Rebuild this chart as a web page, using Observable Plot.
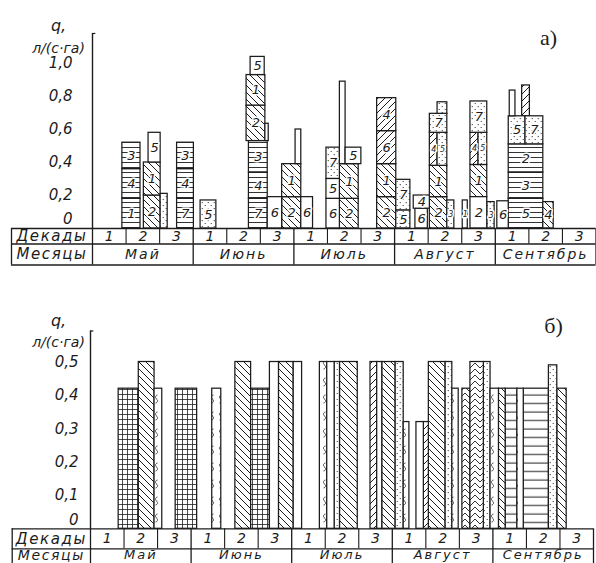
<!DOCTYPE html>
<html>
<head>
<meta charset="utf-8">
<script src="https://cdn.jsdelivr.net/npm/d3@7"></script>
<script src="https://cdn.jsdelivr.net/npm/@observablehq/plot@0.6"></script>
<style>
  body { margin: 0; background: #fff; }
  #chart { width: 596px; height: 563px; overflow: hidden; position: relative; }
  #chart svg { display: block; }
  g[aria-description="months"] text { letter-spacing: 2px; }
  g[aria-description="rowlabels"] text { letter-spacing: 1.6px; }
</style>
</head>
<body>
<svg width="0" height="0" style="position:absolute">
  <defs>
    <pattern id="pH" patternUnits="userSpaceOnUse" width="8" height="5">
      <rect width="8" height="5" fill="#fff"/>
      <line x1="0" y1="2.5" x2="8" y2="2.5" stroke="#1c1c1c" stroke-width="0.9"/>
    </pattern>
    <pattern id="pW" patternUnits="userSpaceOnUse" width="8" height="8.5">
      <rect width="8" height="8.5" fill="#fff"/>
      <line x1="0" y1="4" x2="8" y2="4" stroke="#1c1c1c" stroke-width="1"/>
    </pattern>
    <pattern id="pB" patternUnits="userSpaceOnUse" width="7" height="7">
      <rect width="7" height="7" fill="#fff"/>
      <path d="M0,0L7,7M-1,6L1,8M6,-1L8,1" stroke="#1c1c1c" stroke-width="1"/>
    </pattern>
    <pattern id="pF" patternUnits="userSpaceOnUse" width="7" height="7">
      <rect width="7" height="7" fill="#fff"/>
      <path d="M0,7L7,0M-1,1L1,-1M6,8L8,6" stroke="#1c1c1c" stroke-width="1"/>
    </pattern>
    <pattern id="pD" patternUnits="userSpaceOnUse" width="6" height="6">
      <rect width="6" height="6" fill="#fff"/>
      <circle cx="1.2" cy="1.5" r="0.6" fill="#1c1c1c"/>
      <circle cx="4.2" cy="4.6" r="0.6" fill="#1c1c1c"/>
    </pattern>
    <pattern id="pG" patternUnits="userSpaceOnUse" width="5" height="5">
      <rect width="5" height="5" fill="#fff"/>
      <path d="M0,2.5H5M2.5,0V5" stroke="#1c1c1c" stroke-width="0.8"/>
    </pattern>
    <pattern id="pS" patternUnits="userSpaceOnUse" width="8" height="17">
      <rect width="8" height="17" fill="#fff"/>
      <path d="M5.5,4C3,4.5 3,7 4.5,8C6,9 6,11.5 3.5,12" stroke="#1c1c1c" stroke-width="0.8" fill="none"/>
    </pattern>
    <pattern id="pC" patternUnits="userSpaceOnUse" width="10" height="6">
      <rect width="10" height="6" fill="#fff"/>
      <path d="M0,6L5,1L10,6" stroke="#1c1c1c" stroke-width="0.9" fill="none"/>
    </pattern>
  </defs>
</svg>
<div id="chart"></div>
<script>
// ---------- labels ----------
const months = ["Май", "Июнь", "Июль", "Август", "Сентябрь"];
const decadeLabels = ["1", "2", "3"];
const rowLabels = ["Декады", "Месяцы"];
const yTicksA = [0, 0.2, 0.4, 0.6, 0.8, 1.0];
const yTickLabelsA = ["0", "0,2", "0,4", "0,6", "0,8", "1,0"];
const yTicksB = [0, 0.1, 0.2, 0.3, 0.4, 0.5];
const yTickLabelsB = ["0", "0,1", "0,2", "0,3", "0,4", "0,5"];
const yTitle = ["q,", "л/(с·га)"];

// ---------- panel a: stacked segments [x1, x2 (decade units from 1 May), y1, y2, crop no., hatch] ----------
const mayA = [
  [0.89, 1.43, 0, 0.18, "1", "h"], [0.89, 1.43, 0.18, 0.36, "4", "h"], [0.89, 1.43, 0.36, 0.52, "3", "h"],
  [1.53, 2.03, 0, 0.20, "2", "b"], [1.53, 2.03, 0.20, 0.40, "1", "b"], [1.67, 2.03, 0.40, 0.58, "5", "n"],
  [2.03, 2.24, 0, 0.21, "", "d"],
  [2.52, 3.02, 0, 0.18, "7", "h"], [2.52, 3.02, 0.18, 0.36, "4", "h"], [2.52, 3.02, 0.36, 0.52, "3", "h"]
];
const juneA = [
  [3.22, 3.69, 0, 0.17, "5", "d"],
  [4.66, 5.22, 0, 0.18, "7", "h"], [4.66, 5.22, 0.18, 0.34, "4", "h"], [4.66, 5.22, 0.34, 0.53, "3", "h"],
  [4.59, 5.15, 0.53, 0.745, "2", "b"], [4.59, 5.15, 0.745, 0.93, "1", "b"], [4.71, 5.13, 0.93, 1.04, "5", "n"],
  [5.15, 5.25, 0.53, 0.635, "", "n"],
  [5.22, 5.65, 0, 0.19, "6", "n"],
  [5.65, 6.22, 0, 0.19, "2", "b"], [5.65, 6.22, 0.19, 0.39, "1", "b"], [6.05, 6.22, 0.39, 0.60, "", "n"]
];
const julyA = [
  [6.22, 6.57, 0, 0.19, "6", "n"],
  [6.97, 7.37, 0, 0.18, "6", "n"], [6.97, 7.37, 0.18, 0.30, "5", "n"], [6.97, 7.37, 0.30, 0.49, "7", "d"],
  [7.37, 7.93, 0, 0.18, "2", "b"], [7.37, 7.93, 0.18, 0.39, "1", "b"], [7.37, 7.54, 0.39, 0.89, "", "n"], [7.54, 8.01, 0.39, 0.49, "5", "n"],
  [8.48, 9.05, 0, 0.19, "2", "b"], [8.48, 9.05, 0.19, 0.39, "1", "b"], [8.48, 9.05, 0.39, 0.59, "6", "f"], [8.48, 9.05, 0.59, 0.79, "4", "f"]
];
const augA = [
  [9.05, 9.47, 0, 0.11, "5", "d"], [9.05, 9.47, 0.11, 0.295, "7", "d"],
  [9.62, 9.99, 0, 0.12, "6", "n"], [9.57, 10.05, 0.12, 0.20, "4", "n"],
  [10.05, 10.57, 0, 0.19, "2", "b"], [10.05, 10.57, 0.19, 0.38, "1", "b"],
  [10.05, 10.28, 0.38, 0.58, "4", "f"], [10.28, 10.57, 0.38, 0.58, "5", "d"],
  [10.05, 10.57, 0.58, 0.695, "7", "d"], [10.28, 10.57, 0.695, 0.765, "", "d"],
  [10.57, 10.78, 0, 0.17, "3", "d"],
  [11.03, 11.18, 0, 0.17, "1", "n"],
  [11.26, 11.76, 0, 0.19, "2", "n"], [11.26, 11.76, 0.19, 0.385, "1", "b"],
  [11.26, 11.50, 0.385, 0.58, "4", "f"], [11.50, 11.76, 0.385, 0.58, "5", "d"],
  [11.26, 11.76, 0.58, 0.77, "7", "d"],
  [11.76, 11.98, 0, 0.16, "3", "d"]
];
const sepA = [
  [12.06, 12.40, 0, 0.165, "6", "n"],
  [12.40, 13.43, 0, 0.18, "5", "h"], [12.40, 13.43, 0.18, 0.34, "3", "h"], [12.40, 13.43, 0.34, 0.51, "2", "h"],
  [12.40, 12.90, 0.51, 0.68, "5", "d"], [12.90, 13.43, 0.51, 0.68, "7", "d"],
  [12.43, 12.60, 0.68, 0.836, "", "n"], [12.80, 13.03, 0.68, 0.867, "", "f"],
  [13.43, 13.74, 0, 0.16, "4", "b"]
];

// ---------- panel b: bars [x1, x2, q, hatch] ----------
const mayB = [
  [0.84, 1.44, 0.42, "g"], [1.44, 1.91, 0.50, "b"], [1.91, 2.14, 0.42, "s"], [2.54, 3.18, 0.42, "g"]
];
const juneB = [
  [3.63, 3.90, 0.42, "s"], [4.32, 4.79, 0.50, "b"], [4.79, 5.35, 0.42, "g"],
  [5.35, 5.62, 0.50, "n"], [5.62, 6.06, 0.50, "b"], [6.06, 6.31, 0.50, "n"]
];
const julyB = [
  [6.84, 7.06, 0.50, "s"], [7.06, 7.28, 0.50, "n"], [7.28, 7.44, 0.50, "d"], [7.44, 7.97, 0.50, "b"],
  [8.35, 8.55, 0.50, "f"], [8.55, 8.70, 0.50, "n"], [8.70, 9.10, 0.50, "b"], [9.10, 9.34, 0.50, "d"],
  [9.34, 9.51, 0.32, "s"]
];
const augB = [
  [9.72, 9.94, 0.32, "n"], [9.94, 10.09, 0.32, "f"], [10.09, 10.59, 0.50, "b"], [10.59, 10.79, 0.50, "d"],
  [10.79, 10.98, 0.42, "s"], [11.09, 11.33, 0.42, "c"], [11.33, 11.73, 0.50, "c"], [11.73, 11.93, 0.50, "d"],
  [11.93, 12.18, 0.42, "s"], [12.18, 12.38, 0.42, "b"]
];
const sepB = [
  [12.38, 12.73, 0.42, "w"], [12.73, 12.92, 0.42, "s"], [12.92, 13.67, 0.42, "w"],
  [13.67, 13.92, 0.49, "d"], [13.92, 14.20, 0.42, "b"]
];

// ---------- styling ----------
const ink = "#1c1c1c";
const FONT = "DejaVu Sans, Liberation Sans, sans-serif";
const fills = {h: "url(#pH)", w: "url(#pW)", b: "url(#pB)", f: "url(#pF)", d: "url(#pD)",
               g: "url(#pG)", s: "url(#pS)", c: "url(#pC)", n: "#ffffff"};

const segsA = [...mayA, ...juneA, ...julyA, ...augA, ...sepA]
  .map(([x1, x2, y1, y2, label, pat]) => ({x1, x2, y1, y2, label, pat}));
const barsB = [...mayB, ...juneB, ...julyB, ...augB, ...sepB]
  .map(([x1, x2, q, pat]) => ({x1, x2, y1: 0, y2: q, pat}));

function hatchedRects(data) {
  return Object.keys(fills).map(p => Plot.rect(data.filter(d => d.pat === p), {
    x1: "x1", x2: "x2", y1: "y1", y2: "y2",
    fill: fills[p], stroke: ink, strokeWidth: 1.25
  }));
}

// xl: left edge of label column; r1, r2: row bottoms; ym: month-row text position; fs: month-row font size
function tableMarks(xl, r1, r2, ym, fs) {
  const monthEdges = d3.range(0, 16, 3);
  const decadeEdges = d3.range(1, 15).filter(i => i % 3 !== 0);
  const decs = d3.range(15).map(i => ({x: i + 0.5, t: decadeLabels[i % 3]}));
  const mons = months.map((m, i) => ({x: i * 3 + 1.5, t: m}));
  const common = {fill: ink, fontFamily: FONT, fontStyle: "italic"};
  return [
    Plot.ruleY([0, r1, r2], {x1: xl, x2: 15, stroke: ink, strokeWidth: 1.3}),
    Plot.ruleX([xl, ...monthEdges], {y1: 0, y2: r2, stroke: ink, strokeWidth: 1.3}),
    Plot.ruleX(decadeEdges, {y1: 0, y2: r1, stroke: ink, strokeWidth: 1.1}),
    Plot.text(decs, {x: "x", y: r1 / 2, text: "t", fontSize: 14, ...common}),
    Plot.text(mons, {x: "x", y: ym, text: "t", fontSize: fs, ariaDescription: "months", ...common}),
    Plot.text(rowLabels, {x: xl / 2, y: (d, i) => i === 0 ? r1 / 2 : ym, text: d => d,
      fontSize: (d, i) => i === 0 ? 15 : fs + 1, ariaDescription: "rowlabels", ...common})
  ];
}

function axisMarks(ticks, labels, top, dx, zeroDy, tickLen) {
  const common = {fill: ink, fontFamily: FONT, fontStyle: "italic", fontSize: 15, textAnchor: "end"};
  return [
    Plot.ruleX([0], {y1: 0, y2: top, stroke: ink, strokeWidth: 1.4}),
    Plot.ruleY([top], {x1: 0, x2: tickLen, stroke: ink, strokeWidth: 1.2}),
    Plot.text(ticks.slice(1), {x: 0, y: d => d, text: (d, i) => labels[i + 1], dx, ...common}),
    Plot.text([ticks[0]], {x: 0, y: d => d, text: () => labels[0], dx, dy: zeroDy, ...common})
  ];
}

function titleMarks(ty1, ty2, tx, letter, lx, ly) {
  const common = {fill: ink, fontFamily: FONT, fontStyle: "italic", frameAnchor: "top-left",
    textAnchor: "middle", lineAnchor: "middle"};
  return [
    Plot.text([yTitle[0]], {text: d => d, dx: tx, dy: ty1, fontSize: 16, ...common}),
    Plot.text([yTitle[1]], {text: d => d, dx: tx, dy: ty2, fontSize: 14, ...common}),
    Plot.text([letter], {text: d => d, dx: lx, dy: ly, fontSize: 22, fill: ink,
      fontFamily: "Liberation Serif, serif", frameAnchor: "top-left", textAnchor: "middle", lineAnchor: "middle"})
  ];
}

// ---------- panel a ----------
const PXA = (595.5 - 92) / 15;
const kA = 165;
const plotA = Plot.plot({
  width: 596, height: 272,
  marginLeft: 0, marginRight: 0, marginTop: 0, marginBottom: 0,
  x: {domain: [0, 15], range: [92, 595.5], axis: null},
  y: {domain: [0, 1], range: [228, 63], axis: null},
  style: {background: "transparent"},
  marks: [
    ...hatchedRects(segsA),
    Plot.text(segsA.filter(d => d.label), {
      x: d => (d.x1 + d.x2) / 2, y: d => (d.y1 + d.y2) / 2, text: "label",
      fontSize: d => (d.x2 - d.x1) < 0.3 ? 8 : 13, fontFamily: FONT, fontStyle: "italic",
      fill: ink, stroke: "white", strokeWidth: 3
    }),
    ...tableMarks(-81 / PXA, -15.5 / kA, -36.5 / kA, -26 / kA, 14),
    ...axisMarks(yTicksA, yTickLabelsA, 1.182, -20, -9, 0.1),
    ...titleMarks(25, 48, 58, "а)", 548, 37)
  ]
});

// ---------- panel b ----------
const PXB = (593 - 90) / 15;
const kB = (256.3 - 89.5) / 0.5;
const plotB = Plot.plot({
  width: 596, height: 291,
  marginLeft: 0, marginRight: 0, marginTop: 0, marginBottom: 0,
  x: {domain: [0, 15], range: [90, 593], axis: null},
  y: {domain: [0, 0.5], range: [256.3, 89.5], axis: null},
  style: {background: "transparent"},
  marks: [
    ...hatchedRects(barsB),
    ...tableMarks(-78.3 / PXB, -20 / kB, -38 / kB, -26.5 / kB, 13),
    ...axisMarks(yTicksB, yTickLabelsB, 0.593, -12, -9, 0.1),
    ...titleMarks(48, 70, 58, "б)", 553, 53)
  ]
});

const chart = document.getElementById("chart");
chart.appendChild(plotA);
chart.appendChild(plotB);
</script>
</body>
</html>
